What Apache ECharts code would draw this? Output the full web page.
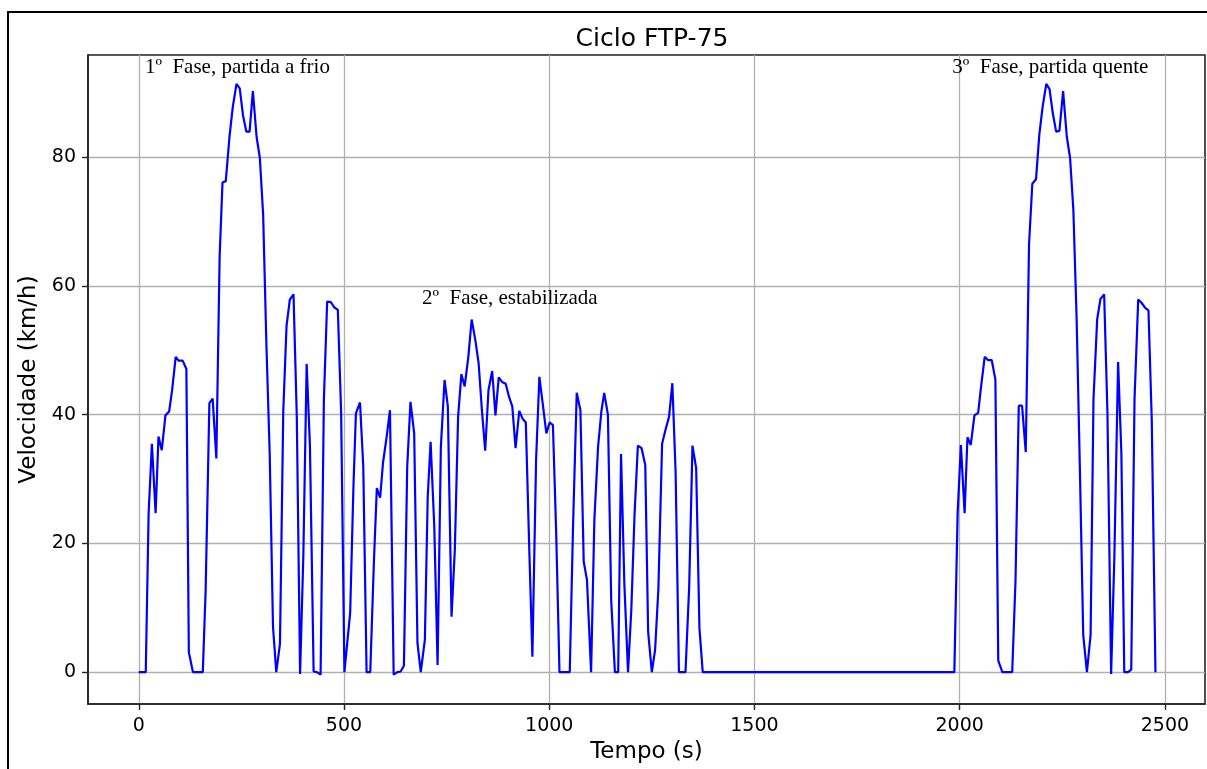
<!DOCTYPE html>
<html>
<head>
<meta charset="utf-8">
<script src="https://cdn.jsdelivr.net/npm/echarts@6/dist/echarts.min.js"></script>
<style>
html,body{margin:0;padding:0;background:#fff;}
#chart{width:1207px;height:769px;}
</style>
</head>
<body>
<div id="chart"></div>
<script>
// ---- Data ----
// Phase 1 (cold start)
const phase1Time  = [0, 17, 24, 32, 41, 48, 56, 65, 74, 81, 90, 97, 107, 116, 122, 132, 156, 163, 172, 180, 189, 197, 204, 212, 221, 229, 238, 246, 254, 262, 270, 278, 287, 295, 303, 311, 319, 327, 335, 344, 352, 360, 368, 377, 385, 393, 401, 409, 417, 426, 434, 443, 451, 459, 468, 476, 485, 493, 501];
const phase1Speed = [0, 0, 24.7, 35.5, 24.7, 36.6, 34.5, 39.9, 40.5, 43.7, 49.0, 48.4, 48.4, 47.1, 3.1, 0, 0, 12.9, 41.8, 42.5, 33.2, 64.6, 76.1, 76.3, 83.2, 87.8, 91.4, 90.7, 86.5, 84.0, 84.0, 90.3, 83.2, 79.9, 71.1, 50.8, 33.9, 7.1, 0, 4.4, 40.4, 53.8, 57.9, 58.7, 39.7, -0.3, 18.2, 47.9, 35.2, 0.1, 0, -0.4, 42.4, 57.6, 57.5, 56.7, 56.3, 40.4, 0];
// Phase 2 (stabilized)
const phase2Time  = [515, 523, 529, 539, 547, 555, 564, 573, 580, 588, 595, 604, 612, 621, 630, 638, 646, 654, 662, 671, 679, 687, 697, 704, 711, 720, 728, 736, 745, 753, 762, 770, 778, 786, 794, 803, 811, 820, 828, 836, 844, 852, 861, 869, 877, 885, 894, 902, 910, 918, 927, 935, 943, 951, 959, 968, 976, 985, 993, 1001, 1009, 1017, 1025, 1050, 1058, 1067, 1076, 1084, 1092, 1102, 1110, 1119, 1127, 1134, 1143, 1151, 1160, 1168, 1175, 1183, 1192, 1200, 1208, 1216, 1225, 1234, 1241, 1250, 1258, 1266, 1275, 1283, 1292, 1300, 1308, 1316, 1332, 1341, 1349, 1358, 1366, 1374];
const phase2Speed = [9.2, 28.8, 40.2, 41.9, 31.9, 0, 0, 17.4, 28.6, 27.1, 32.5, 36.6, 40.7, -0.4, 0, 0.1, 1.0, 31.9, 42.0, 37.1, 4.5, 0, 5.0, 27.3, 35.8, 22.6, 1.1, 35.0, 45.4, 41.3, 8.6, 19.0, 39.7, 46.3, 44.4, 49.0, 54.8, 51.6, 48.0, 40.7, 34.4, 43.8, 46.8, 39.9, 45.8, 45.1, 44.8, 42.8, 41.3, 34.8, 40.6, 39.4, 38.8, 20.0, 2.4, 33.0, 45.9, 41.3, 37.1, 38.8, 38.4, 21.6, 0, 0, 22.6, 43.4, 40.7, 17.2, 14.3, 0, 23.7, 35.0, 40.5, 43.4, 40.0, 11.2, 0, 0, 33.9, 13.8, 0, 9.7, 24.7, 35.2, 34.8, 32.2, 6.3, 0, 3.5, 13.0, 35.5, 37.6, 39.7, 44.9, 30.9, 0, 0, 13.3, 35.2, 31.7, 6.8, 0];
// Phase 3 (hot start)
const phase3Time  = [1987, 1995, 2003, 2012, 2019, 2027, 2036, 2045, 2052, 2061, 2069, 2078, 2087, 2094, 2104, 2128, 2136, 2144, 2152, 2161, 2169, 2177, 2186, 2194, 2202, 2211, 2219, 2227, 2235, 2243, 2252, 2261, 2269, 2277, 2285, 2293, 2301, 2310, 2319, 2326, 2335, 2343, 2352, 2360, 2369, 2377, 2386, 2394, 2401, 2410, 2418, 2426, 2435, 2443, 2452, 2460, 2468, 2477];
const phase3Speed = [0, 24.7, 35.3, 24.7, 36.5, 35.3, 39.9, 40.3, 44.3, 49.0, 48.5, 48.5, 45.5, 1.8, 0, 0, 14.2, 41.4, 41.4, 34.2, 66.5, 75.9, 76.6, 83.5, 87.8, 91.4, 90.6, 86.8, 84.0, 84.1, 90.3, 83.2, 79.9, 71.8, 54.8, 31.2, 5.8, 0, 5.8, 42.4, 54.8, 58.0, 58.7, 40.4, -0.3, 18.2, 48.2, 33.9, 0, 0, 0.4, 42.4, 57.9, 57.4, 56.6, 56.2, 39.1, 0];

// Annotations
const noteText = ['1º  Fase, partida a frio', '2º  Fase, estabilizada', '3º  Fase, partida quente'];
const noteX = [15, 690, 1982];
const noteY = [93, 57, 93];

// Axis ticks
const xTicks = [0, 500, 1000, 1500, 2000, 2500];
const yTicks = [0, 20, 40, 60, 80];

// ---- Build ----
const allTime = phase1Time.concat(phase2Time, phase3Time);
const allSpeed = phase1Speed.concat(phase2Speed, phase3Speed);
const lineData = allTime.map((t, i) => [t, allSpeed[i]]);
const noteData = noteText.map((s, i) => ({ value: [noteX[i], noteY[i]], name: s }));

const chart = echarts.init(document.getElementById('chart'), null, { renderer: 'canvas' });
const sans = 'DejaVu Sans';
chart.setOption({
  backgroundColor: '#ffffff',
  animation: false,
  title: {
    text: 'Ciclo FTP-75',
    left: 647, top: 22, textAlign: 'center',
    textStyle: { fontFamily: sans, fontSize: 25, fontWeight: 'normal', color: '#000' }
  },
  graphic: [{
    type: 'rect', silent: true, z: 100,
    shape: { x: 8, y: 12, width: 1300, height: 900 },
    style: { fill: 'none', stroke: '#000', lineWidth: 2 }
  }],
  grid: {
    left: 88, top: 55, right: 2, bottom: 65,
    containLabel: false, outerBoundsMode: 'none',
    show: true, borderColor: '#222', borderWidth: 1.6, backgroundColor: 'transparent'
  },
  xAxis: {
    type: 'value', min: -123.7, max: 2597.7,
    name: 'Tempo (s)', nameLocation: 'middle', nameGap: 37,
    nameTextStyle: { fontFamily: sans, fontSize: 23, color: '#000' },
    axisLine: { show: true, onZero: false, lineStyle: { color: '#222', width: 1.6 } },
    axisTick: { show: true, customValues: xTicks, length: 6, lineStyle: { color: '#222', width: 1.4 } },
    axisLabel: { customValues: xTicks, margin: 13, fontFamily: sans, fontSize: 19, color: '#000', formatter: v => String(v) },
    splitLine: { show: true, lineStyle: { color: '#b0b0b0', width: 1.3 } }
  },
  yAxis: {
    type: 'value', min: -4.95, max: 95.9,
    name: 'Velocidade (km/h)', nameLocation: 'middle', nameGap: 42,
    nameTextStyle: { fontFamily: sans, fontSize: 23, color: '#000' },
    axisLine: { show: true, onZero: false, lineStyle: { color: '#222', width: 1.6 } },
    axisTick: { show: true, customValues: yTicks, length: 6, lineStyle: { color: '#222', width: 1.4 } },
    axisLabel: { customValues: yTicks, margin: 12, fontFamily: sans, fontSize: 19, color: '#000', formatter: v => String(v) },
    splitLine: { show: true, lineStyle: { color: '#b0b0b0', width: 1.3 } }
  },
  series: [{
    type: 'line', data: lineData, showSymbol: false, symbol: 'none',
    lineStyle: { color: '#0000ff', width: 2.2 }, z: 3
  }, {
    type: 'scatter', data: noteData, symbolSize: 0, z: 4, silent: true,
    itemStyle: { opacity: 1 },
    label: {
      show: true, position: [0, 0], align: 'left', verticalAlign: 'bottom', offset: [0, 4],
      formatter: p => p.name, opacity: 1,
      fontFamily: 'Liberation Serif', fontSize: 21, color: '#000'
    }
  }]
});
</script>
</body>
</html>
